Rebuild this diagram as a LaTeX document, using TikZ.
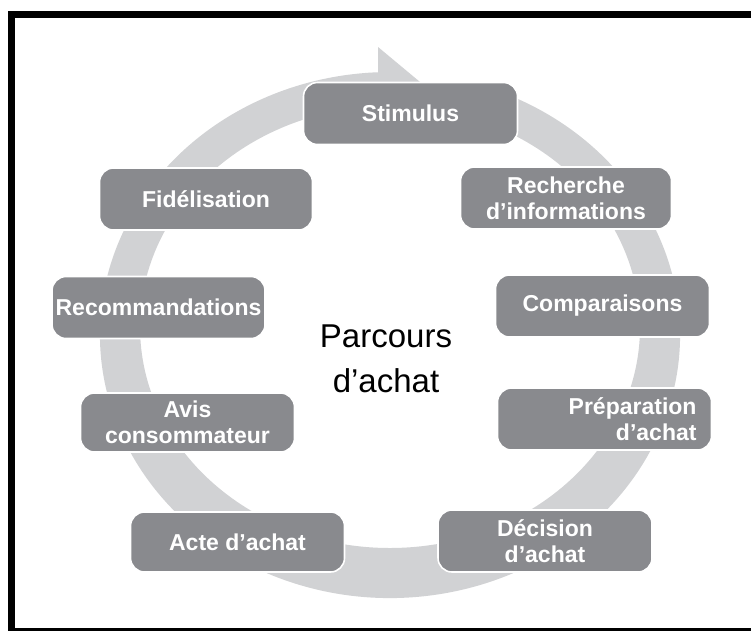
\documentclass[tikz,border=0pt]{standalone}
\usepackage{fontspec}
\setmainfont{Liberation Sans}
\begin{document}
\begin{tikzpicture}[x=1pt,y=-1pt,
  stage/.style={draw=white, line width=1.6pt, fill=boxgray, rounded corners=14pt,
    minimum width=214pt, minimum height=62pt, inner sep=0pt, align=center,
    text=white, font=\fontsize{23}{26}\selectfont\bfseries},
  ring/.style={fill=ringgray}]
\definecolor{boxgray}{HTML}{898A8E}
\definecolor{ringgray}{HTML}{D1D2D4}
\useasboundingbox (0,0) rectangle (751,630);
\clip (0,0) rectangle (751,630);
\fill[white] (0,0) rectangle (751,630);
% outer frame
\draw[line width=7pt] (11.5,14.5) rectangle (770,631);
% circular flow arrow: band between two ellipses, head at the top
\coordinate (oc) at (390,335);
\coordinate (ic) at (390,327);
\path[ring] (oc) ++(-65:290 and 263)
  arc[start angle=-65, end angle=267.6, x radius=290, y radius=263]
  -- ([shift={(267.2:250 and 221)}]ic)
  arc[start angle=267.2, end angle=-65, x radius=250, y radius=221] -- cycle;
\coordinate (headtop) at (378,47);
\coordinate (headtip) at (432,92);
\coordinate (headbot) at (378,135);
\fill[ringgray] (headtop) -- (headtip) -- (headbot) -- cycle;
% stages
\node[stage] (stim) at (410.5,113.5) {Stimulus};
\node[stage, minimum width=211pt] (rech) at (566,198) {Recherche\\d’informations};
\node[stage] (comp) at (602.5,306) {Comparaisons};
\node[stage, text width=184pt, align=right] (prep) at (604.5,419) {Préparation\\d’achat};
\node[stage] (deci) at (545,541) {Décision\\d’achat};
\node[stage, minimum height=60pt] (acte) at (237.5,542) {Acte d’achat};
\node[stage, minimum height=59pt] (avis) at (187.5,422.5) {Avis\\consommateur};
\node[stage, minimum width=213pt] (reco) at (158.5,307.5) {Recommandations};
\node[stage, minimum width=213pt] (fide) at (206,199) {Fidélisation};
% centre title
\node[align=center, font=\fontsize{33}{45}\selectfont] (title) at (386,359) {Parcours\\d’achat};
\end{tikzpicture}
\end{document}
